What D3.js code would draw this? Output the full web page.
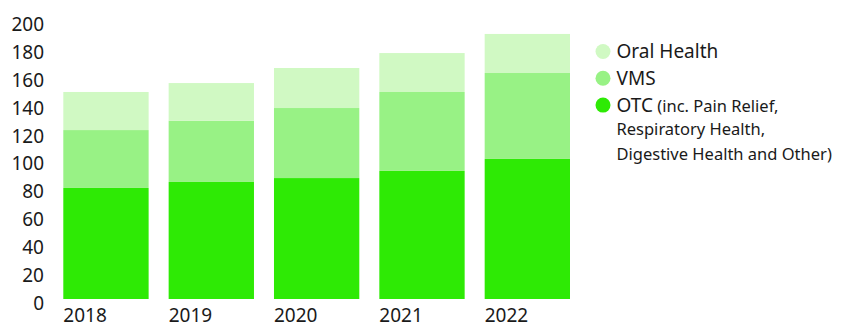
<!DOCTYPE html>
<html>
<head>
<meta charset="utf-8">
<script src="https://cdn.jsdelivr.net/npm/d3@7"></script>
<style>
  body { margin: 0; background: #fff; }
  svg text { font-family: "Noto Sans", sans-serif; fill: #1a1a1a; }
</style>
</head>
<body>
<svg id="chart" width="842" height="327"></svg>
<script>
// data
const years = ['2018', '2019', '2020', '2021', '2022']
const otc = [79.6, 83.9, 86.7, 91.8, 100.4]
const vms = [41.5, 43.9, 50.2, 56.6, 61.6]
const oralHealth = [27.3, 27.0, 28.7, 27.9, 28.0]
const yTicks = [0, 20, 40, 60, 80, 100, 120, 140, 160, 180, 200]

const seriesNames = ['OTC', 'VMS', 'Oral Health']
const colors = { 'OTC': '#2eea05', 'VMS': '#98f285', 'Oral Health': '#d0f9c3' }

const rows = years.map((yr, i) => ({ year: yr, 'OTC': otc[i], 'VMS': vms[i], 'Oral Health': oralHealth[i] }))
const stacked = d3.stack().keys(seriesNames)(rows)

const svg = d3.select('#chart')

const x = d3.scaleBand().domain(years).range([63.3, 570]).paddingInner(0.19).paddingOuter(0)
const y = d3.scaleLinear().domain([0, 200]).range([299, 20])

// bars
svg
  .selectAll('.layer')
  .data(stacked)
  .enter()
  .append('g')
  .attr('class', 'layer')
  .attr('fill', (d) => colors[d.key])
  .selectAll('rect')
  .data((d) => d)
  .enter()
  .append('rect')
  .attr('x', (d) => x(d.data.year))
  .attr('width', x.bandwidth())
  .attr('y', (d) => y(d[1]))
  .attr('height', (d) => y(d[0]) - y(d[1]))

// y axis labels
const yAxis = d3.axisLeft(y).tickValues(yTicks).tickSize(0).tickPadding(0)
const gy = svg.append('g').attr('class', 'y-axis').attr('transform', 'translate(44,0)').call(yAxis)
gy.select('.domain').remove()
gy.selectAll('text').attr('font-size', 19).attr('dy', '0.55em').attr('font-family', null)

// x axis labels, left aligned with each bar
const xAxis = d3.axisBottom(x).tickSize(0).tickPadding(0)
const gx = svg.append('g').attr('class', 'x-axis').attr('transform', 'translate(0,304)').call(xAxis)
gx.select('.domain').remove()
gx.selectAll('text')
  .attr('font-size', 19)
  .attr('dy', '0.95em')
  .attr('font-family', null)
  .attr('text-anchor', 'start')
  .attr('x', -x.bandwidth() / 2)

// legend
const legendItems = ['Oral Health', 'VMS', 'OTC']
const legend = svg.append('g').attr('transform', 'translate(603,51.5)')
legendItems.forEach((name, i) => {
  const g = legend.append('g').attr('transform', `translate(0,${i * 26.8})`)
  g.append('circle').attr('r', 7.5).attr('fill', colors[name])
  const t = g.append('text').attr('x', 13.5).attr('y', 0).attr('dy', '0.35em').attr('font-size', 19).text(name)
  if (name === 'OTC') {
    t.append('tspan').attr('font-size', 16.5).text(' (inc. Pain Relief,')
  }
})
const extra = ['Respiratory Health,', 'Digestive Health and Other)']
extra.forEach((line, i) => {
  legend
    .append('text')
    .attr('x', 13.5)
    .attr('y', 2 * 26.8 + (i + 1) * 24.5)
    .attr('dy', '0.35em')
    .attr('font-size', 16.5)
    .text(line)
})
</script>
</body>
</html>
